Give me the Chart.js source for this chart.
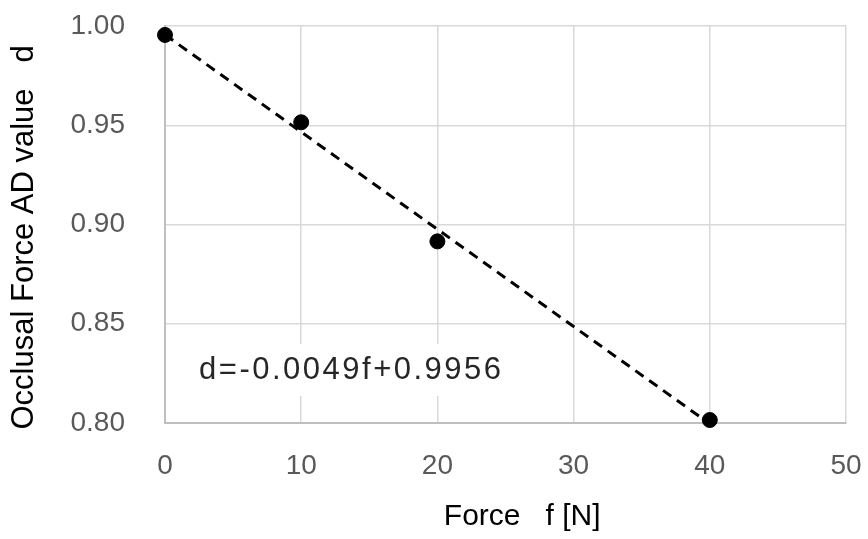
<!DOCTYPE html>
<html>
<head>
<meta charset="utf-8">
<script src="https://cdn.jsdelivr.net/npm/chart.js@4.4.1/dist/chart.umd.min.js"></script>
<style>
  html, body { margin: 0; padding: 0; background: #fff; }
  #wrap { width: 868px; height: 539px; }
</style>
</head>
<body>
<div id="wrap"><canvas id="chartForce"></canvas></div>
<script>
// measured points
const forceN = [0, 10, 20, 40];
const adValue = [0.9955, 0.9515, 0.8915, 0.8015];
// linear trendline ends (from the printed equation)
const trendX = [0, 40];
const trendY = [0.9956, 0.7996];
const xTicks = [0, 10, 20, 30, 40, 50];
const yTicks = [0.80, 0.85, 0.90, 0.95, 1.00];
const equationText = 'd=-0.0049f+0.9956';

document.addEventListener('DOMContentLoaded', function() {
    const ctx = document.getElementById('chartForce');

    // equation label with white box over the grid
    const equationLabel = {
        id: 'equationLabel',
        beforeDatasetsDraw(chart) {
            const c = chart.ctx;
            const x = chart.scales.x.getPixelForValue(2.5);
            const y = chart.scales.y.getPixelForValue(0.8267);
            c.save();
            c.font = '31px "Liberation Sans", Arial, sans-serif';
            c.letterSpacing = '2.5px';
            const w = c.measureText(equationText).width;
            c.fillStyle = '#ffffff';
            c.fillRect(x - 8, y - 26, w + 16, 52);
            c.fillStyle = '#262626';
            c.textBaseline = 'middle';
            c.fillText(equationText, x, y);
            c.restore();
        }
    };

    new Chart(ctx, {
        type: 'scatter',
        data: {
            datasets: [{
                label: 'AD value',
                data: forceN.map((f, i) => ({ x: f, y: adValue[i] })),
                backgroundColor: '#000000',
                borderColor: '#000000',
                pointRadius: 7.5,
                pointHoverRadius: 7.5,
                clip: false,
                order: 1
            }, {
                label: 'trend',
                type: 'line',
                data: trendX.map((f, i) => ({ x: f, y: trendY[i] })),
                borderColor: '#000000',
                borderWidth: 3,
                borderDash: [10, 7],
                pointRadius: 0,
                fill: false,
                clip: false,
                order: 2
            }]
        },
        options: {
            responsive: true,
            maintainAspectRatio: false,
            animation: false,
            layout: { padding: 0 },
            plugins: {
                legend: { display: false },
                tooltip: { enabled: false }
            },
            scales: {
                x: {
                    type: 'linear',
                    min: 0,
                    max: 50,
                    afterBuildTicks: axis => { axis.ticks = xTicks.map(v => ({ value: v })); },
                    afterFit: axis => {
                        axis.height = 116;
                        axis.paddingLeft = 0;
                        axis.paddingRight = 22;
                    },
                    grid: { color: '#d9d9d9', lineWidth: 1.5, drawTicks: false },
                    border: { color: '#bfbfbf', width: 2 },
                    ticks: {
                        padding: 26,
                        color: '#595959',
                        font: { family: '"Liberation Sans", Arial, sans-serif', size: 28 }
                    },
                    title: {
                        display: true,
                        text: '    Force   f [N]',
                        color: '#000000',
                        padding: { top: 25 },
                        font: { family: '"Liberation Sans", Arial, sans-serif', size: 30 }
                    }
                },
                y: {
                    type: 'linear',
                    min: 0.8,
                    max: 1.0,
                    afterBuildTicks: axis => { axis.ticks = yTicks.map(v => ({ value: v })); },
                    afterFit: axis => {
                        axis.width = 165;
                        axis.paddingTop = 26;
                        axis.paddingBottom = 0;
                    },
                    grid: { color: '#d9d9d9', lineWidth: 1.5, drawTicks: false },
                    border: { color: '#bfbfbf', width: 2 },
                    ticks: {
                        padding: 40,
                        color: '#595959',
                        font: { family: '"Liberation Sans", Arial, sans-serif', size: 28 },
                        callback: v => v.toFixed(2)
                    },
                    title: {
                        display: true,
                        text: 'Occlusal Force AD value   d   ',
                        color: '#000000',
                        padding: { top: 6, bottom: 0 },
                        font: { family: '"Liberation Sans", Arial, sans-serif', size: 31 }
                    }
                }
            }
        },
        plugins: [equationLabel]
    });
});
</script>
</body>
</html>
